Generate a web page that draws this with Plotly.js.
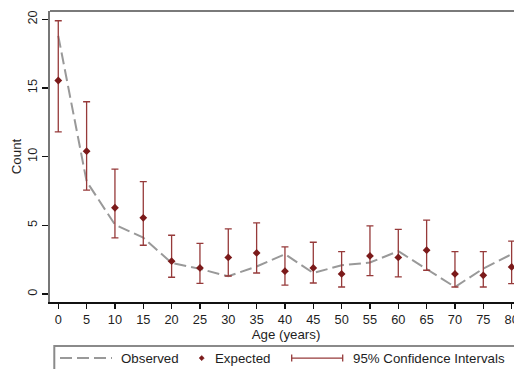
<!DOCTYPE html>
<html>
<head>
<meta charset="utf-8">
<script src="https://cdn.plot.ly/plotly-3.0.1.min.js"></script>
<style>html,body{margin:0;padding:0;overflow:hidden;background:#fff}</style>
</head>
<body>
<div id="chart"></div>
<script>
var ages = [0, 5, 10, 15, 20, 25, 30, 35, 40, 45, 50, 55, 60, 65, 70, 75, 80];
var observed = [18.8, 8.2, 5.05, 4.1, 2.26, 1.83, 1.29, 2.0, 2.9, 1.53, 2.09, 2.29, 3.12, 1.8, 0.51, 1.85, 2.9];
var expected = [15.55, 10.4, 6.28, 5.55, 2.39, 1.9, 2.66, 2.99, 1.66, 1.9, 1.46, 2.77, 2.66, 3.19, 1.46, 1.36, 1.97];
var ciLow = [11.8, 7.57, 4.09, 3.55, 1.22, 0.78, 1.31, 1.53, 0.64, 0.8, 0.51, 1.34, 1.24, 1.73, 0.51, 0.51, 0.76];
var ciHigh = [19.9, 14.0, 9.1, 8.18, 4.28, 3.68, 4.74, 5.18, 3.43, 3.77, 3.09, 4.96, 4.7, 5.38, 3.09, 3.09, 3.85];
var xTicks = [0, 5, 10, 15, 20, 25, 30, 35, 40, 45, 50, 55, 60, 65, 70, 75, 80];
var yTicks = [0, 5, 10, 15, 20];
var legendLabels = ["Observed", "Expected", "95% Confidence Intervals"];

var W = 522, H = 369, ML = 50, MR = 0, MT = 11, MB = 67.3;
var PW = W - ML - MR, PH = H - MT - MB;
function px(x) { return (x - ML) / PW; }
function py(y) { return (H - MB - y) / PH; }

var grey = '#999999', red = '#7b1a1a', ciCol = '#963a3a', txt = '#1e1e1e';
var FONT = 'Liberation Sans, Arial, sans-serif';

var plus = expected.map(function (v, i) { return ciHigh[i] - v; });
var minus = expected.map(function (v, i) { return v - ciLow[i]; });

var traces = [
  { x: ages, y: observed, type: 'scatter', mode: 'lines', name: legendLabels[0],
    line: { color: grey, width: 2, dash: '12px,5px' }, showlegend: false, hoverinfo: 'none' },
  { x: ages, y: expected, type: 'scatter', mode: 'markers', name: legendLabels[1],
    marker: { symbol: 'diamond', size: 6, color: red },
    error_y: { type: 'data', symmetric: false, array: plus, arrayminus: minus,
               color: ciCol, thickness: 1.3, width: 3.5 },
    showlegend: false, hoverinfo: 'none' }
];

// manual legend
var ly = 357.7;
var shapes = [
  { type: 'line', xref: 'paper', yref: 'paper', x0: 0, x1: 1, y0: 1, y1: 1,
    line: { color: '#7a7a7a', width: 2 } },
  { type: 'rect', xref: 'paper', yref: 'paper', x0: px(54.3), x1: px(518), y0: py(345.7), y1: py(380),
    line: { color: '#8a8a8a', width: 2 }, fillcolor: 'rgba(0,0,0,0)' },
  { type: 'line', xref: 'paper', yref: 'paper', x0: px(60), x1: px(112), y0: py(ly), y1: py(ly),
    line: { color: grey, width: 2, dash: '12px,5px' } },
  { type: 'path', xref: 'paper', yref: 'paper',
    path: 'M' + px(201.7 - 2.6) + ',' + py(ly) + ' L' + px(201.7) + ',' + py(ly - 2.6) +
          ' L' + px(201.7 + 2.6) + ',' + py(ly) + ' L' + px(201.7) + ',' + py(ly + 2.6) + ' Z',
    fillcolor: red, line: { color: red, width: 0.5 } },
  { type: 'line', xref: 'paper', yref: 'paper', x0: px(291.7), x1: px(342.7), y0: py(ly), y1: py(ly),
    line: { color: ciCol, width: 1.3 } },
  { type: 'line', xref: 'paper', yref: 'paper', x0: px(291.7), x1: px(291.7), y0: py(ly - 3.5), y1: py(ly + 3.5),
    line: { color: ciCol, width: 1.3 } },
  { type: 'line', xref: 'paper', yref: 'paper', x0: px(342.7), x1: px(342.7), y0: py(ly - 3.5), y1: py(ly + 3.5),
    line: { color: ciCol, width: 1.3 } }
];
var annotations = [
  { text: legendLabels[0], x: px(119), xanchor: 'left' },
  { text: legendLabels[1], x: px(213), xanchor: 'left' },
  { text: legendLabels[2], x: px(351), xanchor: 'left' }
].map(function (a) {
  return { text: a.text, x: a.x, xanchor: a.xanchor, xref: 'paper', yref: 'paper',
           y: py(ly), yanchor: 'middle', showarrow: false,
           font: { family: FONT, size: 13.3, color: txt } };
});

var layout = {
  width: W, height: H,
  margin: { l: ML, r: MR, t: MT, b: MB, pad: 0 },
  paper_bgcolor: '#fff', plot_bgcolor: '#fff',
  font: { family: FONT, size: 12.5, color: txt },
  xaxis: {
    range: [-1.46, 81.83], tickvals: xTicks, ticktext: xTicks.map(String),
    showgrid: false, zeroline: false, showline: true, linecolor: '#111', linewidth: 1.5,
    ticks: 'outside', ticklen: 5, tickwidth: 1.2, tickcolor: '#111',
    tickfont: { family: FONT, size: 12.8, color: txt },
    title: { text: 'Age (years)', font: { family: FONT, size: 13.3, color: txt }, standoff: 2 }
  },
  yaxis: {
    range: [-0.583, 20.61], tickvals: yTicks, ticktext: yTicks.map(String),
    showgrid: false, zeroline: false, showline: true, linecolor: '#777', linewidth: 2,
    ticks: 'outside', ticklen: 6, tickwidth: 1.2, tickcolor: '#111', tickangle: -90,
    tickfont: { family: FONT, size: 12.8, color: txt },
    title: { text: 'Count', font: { family: FONT, size: 13.3, color: txt }, standoff: 0 }
  },
  shapes: shapes,
  annotations: annotations,
  showlegend: false
};

Plotly.newPlot('chart', traces, layout, { staticPlot: true, displayModeBar: false });
</script>
</body>
</html>
